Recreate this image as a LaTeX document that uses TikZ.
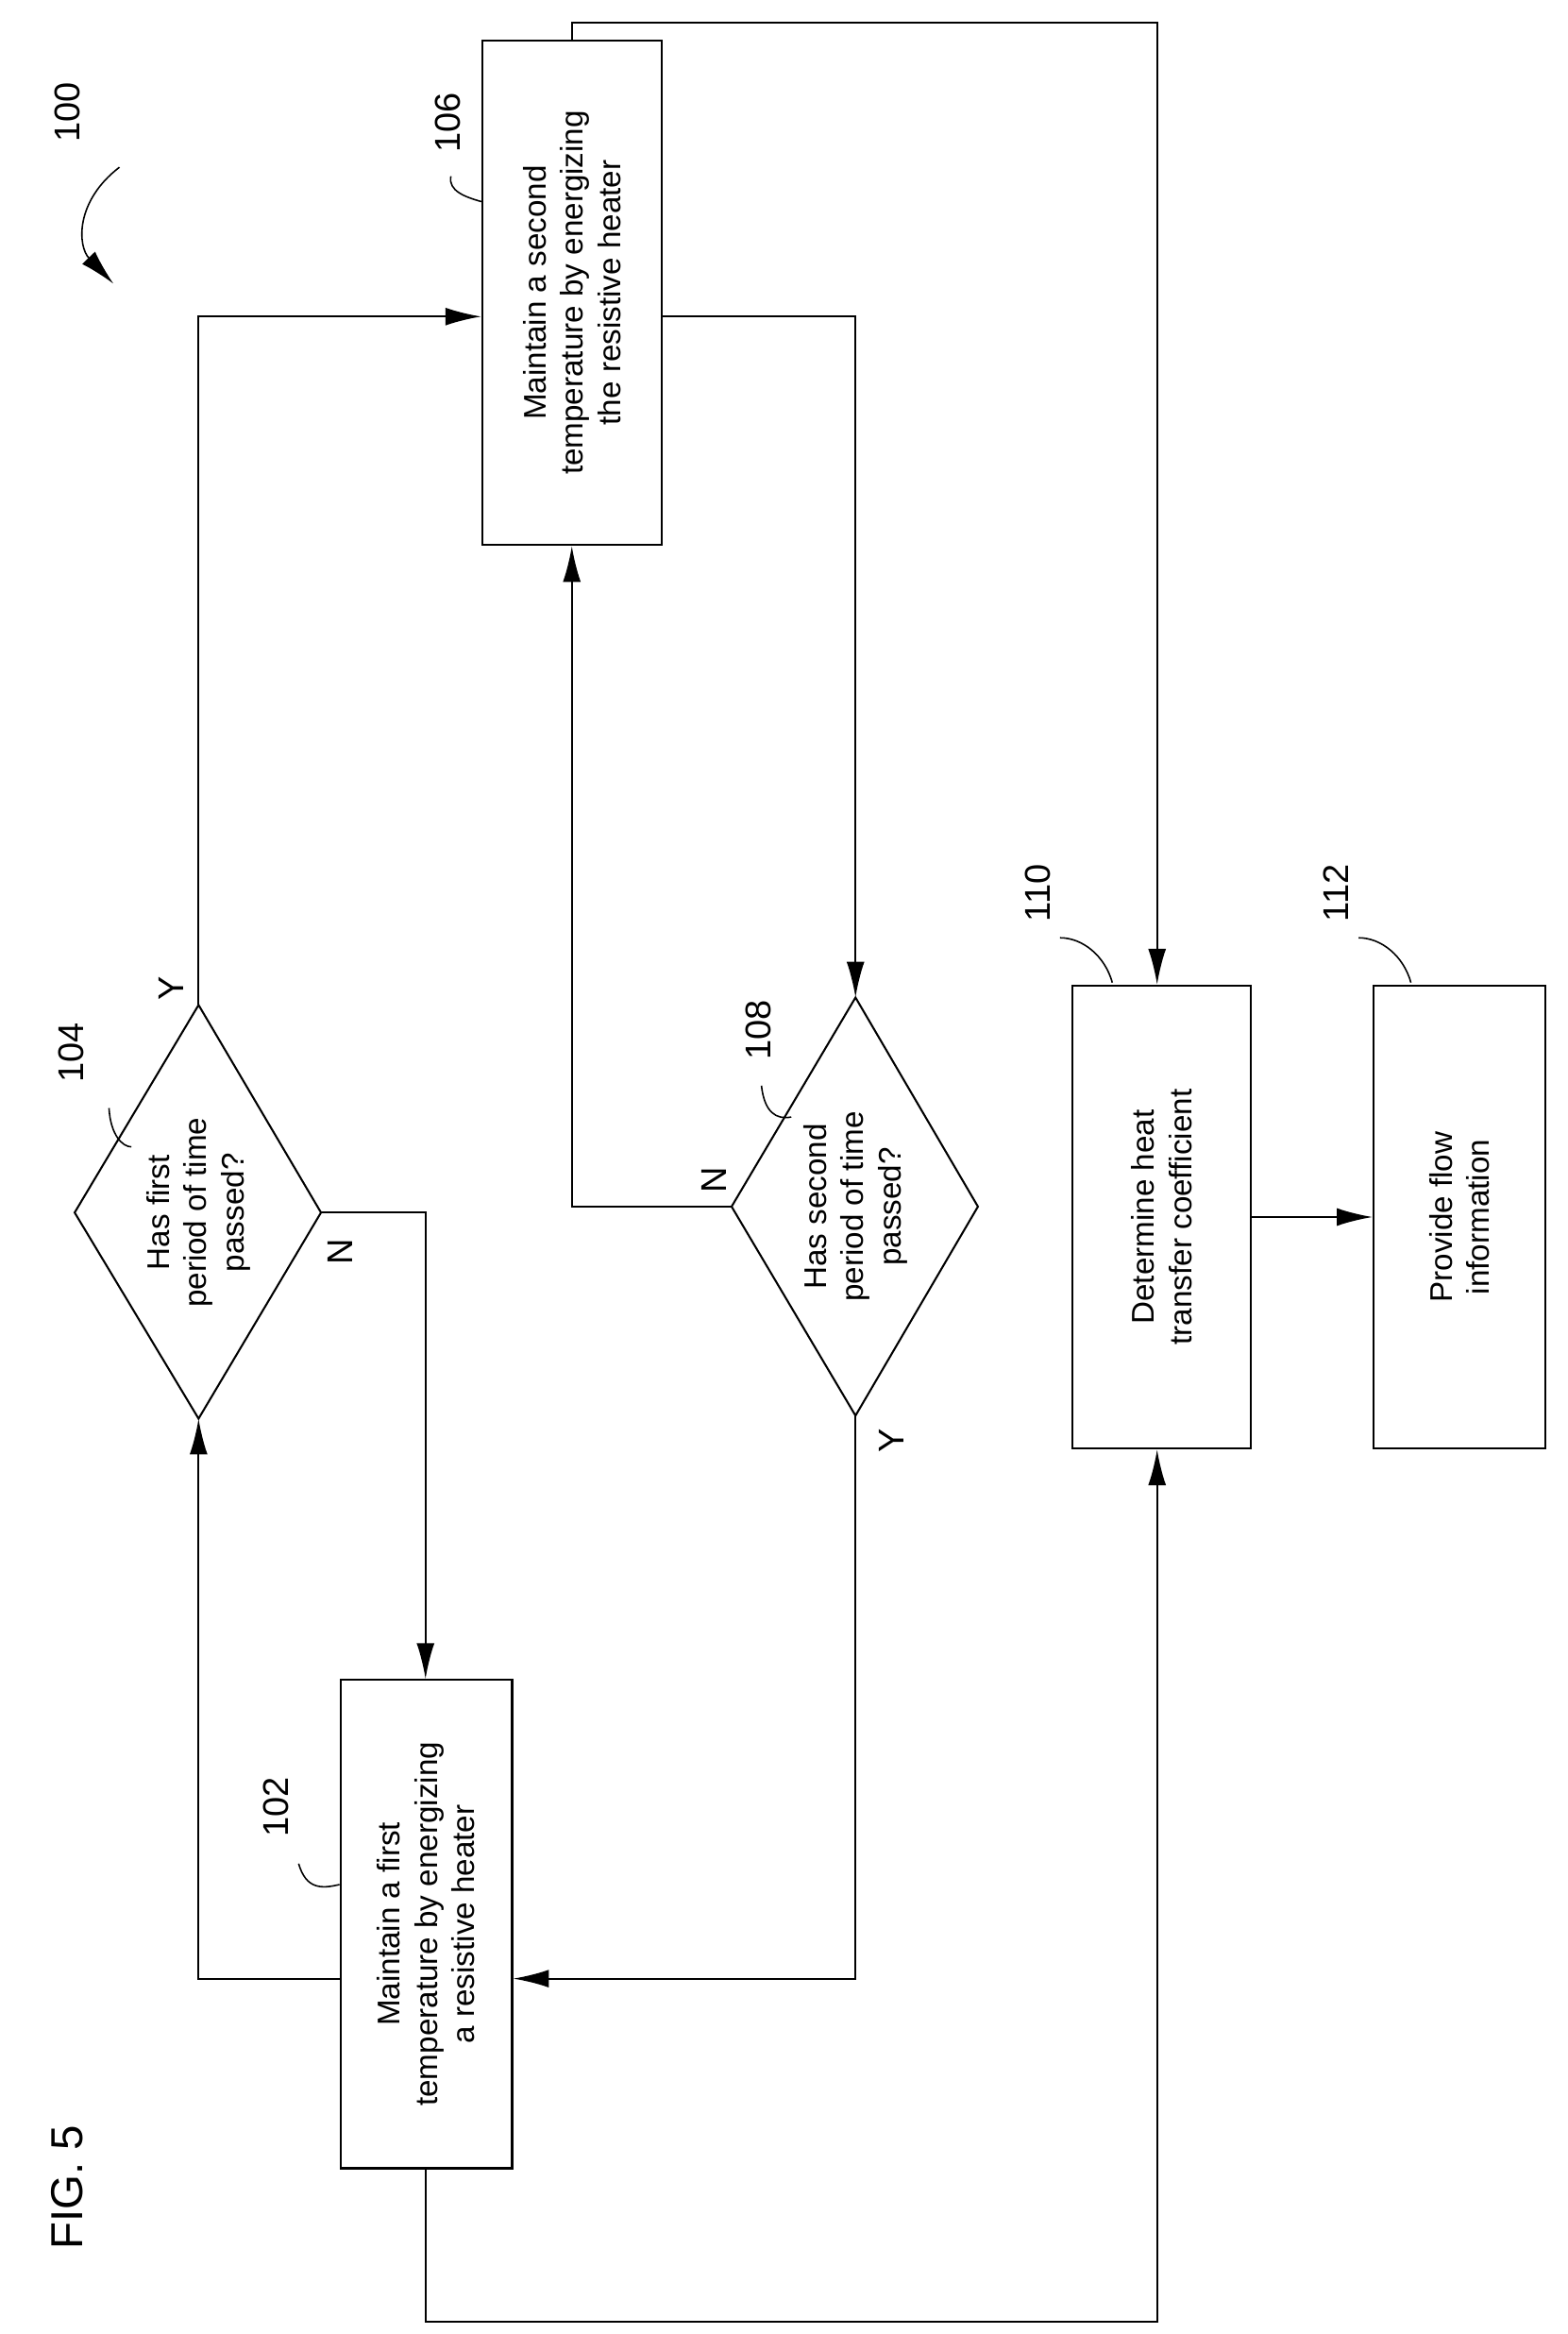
\documentclass[tikz,border=0pt]{standalone}
\usepackage{fontspec}
\setmainfont{Liberation Sans}
\usetikzlibrary{arrows.meta}
\begin{document}
\begin{tikzpicture}[x=1pt,y=-1pt,line width=1.3pt,
 box/.style={draw,rectangle,minimum width=120pt,inner sep=0pt},
 txt/.style={rotate=90,align=center,font=\fontsize{21}{25}\selectfont},
 lab/.style={rotate=90,font=\fontsize{24}{26}\selectfont},
 arr/.style={-{Latex[length=24pt,width=12pt]}},
 lead/.style={line width=1pt}]
\useasboundingbox (0,0) rectangle (1050,1563);
% boxes
\node[box,minimum height=338pt] (b106) at (383,196) {};
\node[txt] at (b106) {Maintain a second\\temperature by energizing\\the resistive heater};
\node[box,minimum width=115pt,minimum height=327pt] (b102) at (285.5,1288.5) {};
\node[txt] at (b102) {Maintain a first\\temperature by energizing\\a resistive heater};
\node[box,minimum height=310pt] (b110) at (778,815) {};
\node[txt] at (b110) {Determine heat\\transfer coefficient};
\node[box,minimum width=115pt,minimum height=310pt] (b112) at (977.5,815) {};
\node[txt] at (b112) {Provide flow\\information};
% diamonds
\coordinate (d104t) at (133,673); \coordinate (d104b) at (133,950);
\coordinate (d104l) at (50,812); \coordinate (d104r) at (215,812);
\draw (d104t)--(d104r)--(d104b)--(d104l)--cycle;
\node[txt] (t104) at (133,812) {Has first\\period of time\\passed?};
\coordinate (d108t) at (573,668); \coordinate (d108b) at (573,948);
\coordinate (d108l) at (490,808); \coordinate (d108r) at (655,808);
\draw (d108t)--(d108r)--(d108b)--(d108l)--cycle;
\node[txt] (t108) at (573,808) {Has second\\period of time\\passed?};
% connectors
\draw[arr] (d104t) |- (b106.west|-0,212);
\draw[arr] (d104r) -| (b102.north-|285,0);
\draw[arr] (b102.west|-0,1325) -| (d104b);
\draw[arr] (b106.east|-0,212) -| (d108t);
\draw[arr] (d108l) -| (b106.south);
\draw[arr] (d108b) |- (b102.east|-0,1325);
\coordinate (c1) at (383,15); \coordinate (c2) at (775,15);
\draw[arr] (b106.north) -- (c1) -- (c2) -- (b110.north-|c2);
\coordinate (c3) at (285,1555); \coordinate (c4) at (775,1555);
\draw[arr] (b102.south-|c3) -- (c3) -- (c4) -- (b110.south-|c4);
\draw[arr] (b110.east) -- (b112.west);
% Y/N
\node[lab] at (115,662) {Y};
\node[lab] at (228,838) {N};
\node[lab] at (478,790) {N};
\node[lab] at (597,965) {Y};
% ref labels
\node[lab] (l100) at (45,75) {100};
\coordinate (a100) at (76,190);
\draw[arr,line width=1pt] (80,112) .. controls (50,135) and (52,165) .. (a100);
\node[lab] (l106) at (300,82) {106};
\draw[lead] (302,118) .. controls (300,128) and (312,132) .. (b106.west|-0,135);
\node[lab] (l104) at (48,705) {104};
\draw[lead] (73,742) .. controls (74,760) and (82,768) .. (88,768);
\node[lab] (l108) at (508,690) {108};
\draw[lead] (510,727) .. controls (512,745) and (520,750) .. (530,748);
\node[lab] (l110) at (695,598) {110};
\draw[lead] (710,628) .. controls (725,628) and (740,640) .. (745,658);
\node[lab] (l112) at (895,598) {112};
\draw[lead] (910,628) .. controls (925,628) and (940,640) .. (945,658);
\node[lab] (l102) at (185,1210) {102};
\draw[lead] (200,1248) .. controls (205,1265) and (215,1265) .. (b102.west|-0,1262);
\node[lab,font=\fontsize{30}{32}\selectfont] (fig) at (45,1465) {FIG. 5};
\end{tikzpicture}
\end{document}
